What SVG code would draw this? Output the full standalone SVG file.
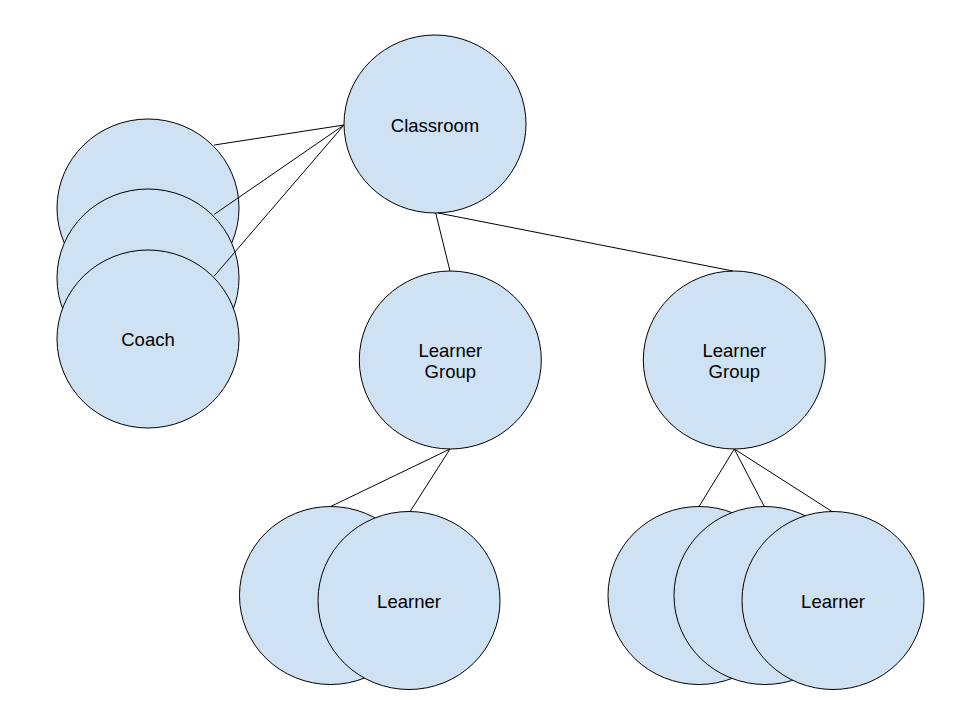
<svg xmlns="http://www.w3.org/2000/svg" width="960" height="720" viewBox="0 0 960 720">
<style>
.n{fill:#cfe2f3;stroke:#000;stroke-width:1}
.t{font-family:"Liberation Sans",Arial,sans-serif;font-size:18.5px;fill:#000;text-anchor:middle}
.c{stroke:#000;stroke-width:1;fill:none}
</style>
<rect width="960" height="720" fill="#fff"/>
<g id="classroom"><ellipse class="n" cx="435" cy="124" rx="91" ry="89"/><text class="t" x="435" y="131.5">Classroom</text></g>
<g id="coach1"><ellipse class="n" cx="148" cy="208" rx="91" ry="89"/></g>
<g id="coach2"><ellipse class="n" cx="148" cy="278" rx="91" ry="89"/></g>
<g id="coach3"><ellipse class="n" cx="148" cy="339" rx="91" ry="89"/><text class="t" x="148" y="346">Coach</text></g>
<g id="group1"><ellipse class="n" cx="450.3" cy="360" rx="91" ry="89"/><text class="t" x="450.3" y="356.5">Learner</text><text class="t" x="450.3" y="377.5">Group</text></g>
<g id="group2"><ellipse class="n" cx="734.3" cy="360" rx="91" ry="89"/><text class="t" x="734.3" y="356.5">Learner</text><text class="t" x="734.3" y="377.5">Group</text></g>
<g id="learner1a"><ellipse class="n" cx="330.5" cy="595.5" rx="91" ry="89"/></g>
<g id="learner1b"><ellipse class="n" cx="409" cy="600.5" rx="91" ry="89"/><text class="t" x="409" y="608.3">Learner</text></g>
<g id="learner2a"><ellipse class="n" cx="699" cy="595.5" rx="91" ry="89"/></g>
<g id="learner2b"><ellipse class="n" cx="765" cy="595.5" rx="91" ry="89"/></g>
<g id="learner2c"><ellipse class="n" cx="833" cy="600.5" rx="91" ry="89"/><text class="t" x="833" y="608.3">Learner</text></g>
<g id="connectors">
<line class="c" x1="344" y1="125" x2="214.3" y2="145"/>
<line class="c" x1="344" y1="125" x2="214.3" y2="214.3"/>
<line class="c" x1="344" y1="125" x2="214.3" y2="276"/>
<line class="c" x1="435.7" y1="213" x2="450" y2="271"/>
<line class="c" x1="438" y1="213" x2="733" y2="271"/>
<line class="c" x1="450" y1="449" x2="330.7" y2="506.5"/>
<line class="c" x1="450" y1="449" x2="410" y2="511.7"/>
<line class="c" x1="734.3" y1="449" x2="699" y2="506.5"/>
<line class="c" x1="734.3" y1="449" x2="764.3" y2="506.5"/>
<line class="c" x1="734.3" y1="449" x2="832.3" y2="511.7"/>
</g>
</svg>
